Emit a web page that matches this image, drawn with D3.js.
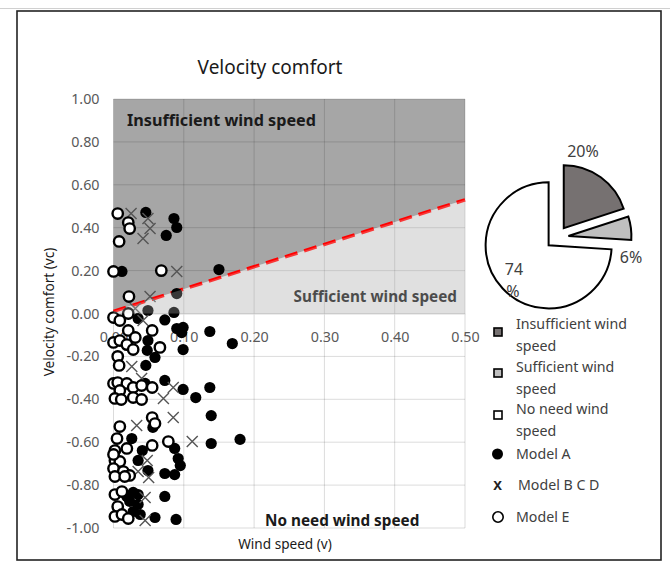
<!DOCTYPE html>
<html>
<head>
<meta charset="utf-8">
<script src="https://cdn.jsdelivr.net/npm/d3@7"></script>
<style>
  html, body { margin: 0; padding: 0; background: #fff; }
  text { font-family: "Noto Sans", "Open Sans", sans-serif; }
</style>
</head>
<body>
<svg id="chart" width="670" height="565"></svg>
<script>
// ---------------- DATA ----------------
const chartTitle = "Velocity comfort";
const xTicks = [0, 0.1, 0.2, 0.3, 0.4, 0.5];
const yTicks = [-1, -0.8, -0.6, -0.4, -0.2, 0, 0.2, 0.4, 0.6, 0.8, 1];

// boundary line (dashed red): wind speed vs velocity comfort
const boundaryV = [0, 0.5];
const boundaryVc = [0.01, 0.53];

// pie
const pieCategories = ["Insufficient wind speed", "Sufficient wind speed", "No need wind speed"];
const pieValues = [20, 6, 74];

// Model A (filled circles) [v, vc]
const modelA = [
  [0.046, 0.471], [0.086, 0.443], [0.090, 0.401], [0.075, 0.364], [0.012, 0.196],
  [0.150, 0.205], [0.090, 0.093], [0.049, 0.014], [0.086, 0.005], [0.035, -0.023],
  [0.073, -0.030], [0.090, -0.070], [0.099, -0.065], [0.097, -0.089], [0.137, -0.084],
  [0.169, -0.140], [0.099, -0.168], [0.049, -0.126], [0.048, -0.172], [0.059, -0.205],
  [0.046, -0.242], [0.045, -0.326], [0.073, -0.312], [0.099, -0.354], [0.137, -0.345],
  [0.117, -0.392], [0.139, -0.476], [0.056, -0.531], [0.180, -0.587], [0.139, -0.606],
  [0.026, -0.583], [0.087, -0.629], [0.041, -0.639], [0.092, -0.676], [0.035, -0.685],
  [0.095, -0.709], [0.049, -0.732], [0.073, -0.746], [0.087, -0.751], [0.028, -0.834],
  [0.035, -0.844], [0.023, -0.876], [0.035, -0.890], [0.028, -0.923], [0.038, -0.937],
  [0.073, -0.853], [0.059, -0.951], [0.089, -0.960], [0.019, -0.853]
];

// Model B C D (crosses) [v, vc]
const modelBCD = [
  [0.025, 0.466], [0.049, 0.443], [0.052, 0.396], [0.042, 0.350], [0.090, 0.196],
  [0.052, 0.079], [0.031, 0.023], [0.042, -0.033], [0.026, -0.247], [0.040, -0.303],
  [0.085, -0.345], [0.071, -0.396], [0.026, -0.373], [0.085, -0.485], [0.033, -0.522],
  [0.112, -0.597], [0.048, -0.685], [0.035, -0.737], [0.050, -0.765], [0.045, -0.858],
  [0.045, -0.965]
];

// Model E (open circles) [v, vc]
const modelE = [
  [0.006, 0.466], [0.021, 0.424], [0.023, 0.396], [0.008, 0.336], [0.000, 0.196],
  [0.068, 0.200], [0.022, 0.079], [0.000, -0.019], [0.009, -0.033], [0.021, 0.000],
  [0.021, -0.079], [0.031, -0.112], [0.055, -0.079], [0.066, -0.158], [0.000, -0.135],
  [0.009, -0.126], [0.019, -0.145], [0.028, -0.168], [0.006, -0.200], [0.008, -0.242],
  [0.000, -0.326], [0.006, -0.322], [0.019, -0.326], [0.028, -0.345], [0.040, -0.336],
  [0.055, -0.345], [0.009, -0.359], [0.002, -0.396], [0.011, -0.401], [0.028, -0.392],
  [0.040, -0.401], [0.055, -0.485], [0.009, -0.527], [0.059, -0.513], [0.078, -0.597],
  [0.055, -0.615], [0.005, -0.583], [0.002, -0.639], [0.019, -0.629], [0.002, -0.685],
  [0.009, -0.690], [0.000, -0.723], [0.014, -0.737], [0.023, -0.755], [0.002, -0.760],
  [0.016, -0.760], [0.002, -0.844], [0.012, -0.830], [0.006, -0.900], [0.002, -0.946],
  [0.012, -0.937], [0.021, -0.956], [0.000, -0.657]
];

// ---------------- CHART ----------------
const svg = d3.select("#chart");

// frame
svg.append("line").attr("x1", 0).attr("x2", 670).attr("y1", 8.5).attr("y2", 8.5)
  .attr("stroke", "#d0d0d0").attr("stroke-width", 1);
svg.append("rect").attr("x", 17).attr("y", 11).attr("width", 644).attr("height", 549)
  .attr("fill", "#fff").attr("stroke", "#222").attr("stroke-width", 1.6);

const x = d3.scaleLinear().domain([0, 0.5]).range([113.5, 465]);
const y = d3.scaleLinear().domain([-1, 1]).range([528, 99]);

// regions
const plot = svg.append("g");
plot.append("rect")
  .attr("x", x(0)).attr("y", y(1)).attr("width", x(0.5) - x(0)).attr("height", y(0) - y(1))
  .attr("fill", "#a6a6a6");
const lightPoly = [
  [x(boundaryV[0]), y(boundaryVc[0])],
  [x(boundaryV[1]), y(boundaryVc[1])],
  [x(boundaryV[1]), y(0)],
  [x(boundaryV[0]), y(0)]
];
plot.append("path").attr("d", d3.line()(lightPoly) + "Z").attr("fill", "#e0e0e0");

// gridlines
const grid = svg.append("g").attr("stroke", "#000").attr("stroke-opacity", 0.14).attr("stroke-width", 1);
xTicks.forEach(t => {
  grid.append("line").attr("x1", x(t)).attr("x2", x(t)).attr("y1", y(1)).attr("y2", y(-1));
});
yTicks.forEach(t => {
  grid.append("line").attr("x1", x(0)).attr("x2", x(0.5)).attr("y1", y(t)).attr("y2", y(t));
});

// region labels
svg.append("text").attr("x", 127).attr("y", 126).attr("font-size", 16.2).attr("font-weight", "bold")
  .attr("fill", "#1a1a1a").text("Insufficient wind speed");
svg.append("text").attr("x", 457).attr("y", 302).attr("text-anchor", "end").attr("font-size", 15.3)
  .attr("font-weight", "bold").attr("fill", "#1a1a1a").text("Sufficient wind speed");
svg.append("text").attr("x", 265).attr("y", 526).attr("font-size", 15.3).attr("font-weight", "bold")
  .attr("fill", "#1a1a1a").text("No need wind speed");

// axes
const fmt = d => (Math.abs(d) < 1e-9 ? 0 : d).toFixed(2);
const yAxis = svg.append("g").attr("transform", `translate(${x(0)},0)`)
  .call(d3.axisLeft(y).tickValues(yTicks).tickSize(0).tickPadding(14).tickFormat(fmt));
yAxis.select(".domain").remove();
yAxis.selectAll("text").attr("font-size", 14.3).attr("fill", "#595959")
  .style("font-family", "'Noto Sans', sans-serif");

const xAxis = svg.append("g").attr("transform", `translate(0,${y(0)})`)
  .call(d3.axisBottom(x).tickValues(xTicks).tickSize(0).tickPadding(18).tickFormat(fmt));
xAxis.select(".domain").attr("stroke", "#d9d9d9");
xAxis.selectAll("text").attr("font-size", 14.3).attr("fill", "#595959")
  .style("font-family", "'Noto Sans', sans-serif");

// dashed boundary line
svg.append("path")
  .attr("d", d3.line().x(d => x(d[0])).y(d => y(d[1]))(boundaryV.map((v, i) => [v, boundaryVc[i]])))
  .attr("stroke", "#ff0000").attr("stroke-width", 3.5).attr("stroke-dasharray", "13,7").attr("fill", "none");

// points
const pts = svg.append("g");
pts.selectAll("circle.a").data(modelA).join("circle").attr("class", "a")
  .attr("cx", d => x(d[0])).attr("cy", d => y(d[1])).attr("r", 5.6).attr("fill", "#000");
const xs = 5.5;
pts.selectAll("path.b").data(modelBCD).join("path").attr("class", "b")
  .attr("d", d => {
    const cx = x(d[0]), cy = y(d[1]);
    return `M${cx - xs},${cy - xs}L${cx + xs},${cy + xs}M${cx - xs},${cy + xs}L${cx + xs},${cy - xs}`;
  })
  .attr("stroke", "#555").attr("stroke-width", 1.4).attr("fill", "none");
pts.selectAll("circle.e").data(modelE).join("circle").attr("class", "e")
  .attr("cx", d => x(d[0])).attr("cy", d => y(d[1])).attr("r", 5.2)
  .attr("fill", "#fff").attr("stroke", "#000").attr("stroke-width", 2.4);

// translucent overlay of the light region (makes marks look greyer there)
svg.append("path").attr("d", d3.line()(lightPoly) + "Z").attr("fill", "#e0e0e0").attr("fill-opacity", 0.25);

// title & axis titles
svg.append("text").attr("x", 270).attr("y", 74).attr("text-anchor", "middle").attr("font-size", 19)
  .attr("fill", "#1a1a1a").text(chartTitle);
svg.append("text").attr("transform", "translate(54,312) rotate(-90)").attr("text-anchor", "middle")
  .attr("font-size", 13.6).attr("fill", "#1a1a1a").text("Velocity comfort (vc)");
svg.append("text").attr("x", 285).attr("y", 549).attr("text-anchor", "middle")
  .attr("font-size", 13.6).attr("fill", "#1a1a1a").text("Wind speed (v)");

// ---------------- PIE ----------------
const pieColors = ["#767171", "#bfbfbf", "#ffffff"];
const pc = [557, 237.5];
const pieR = 63;
const explode = 11.5;
const arcs = d3.pie().sort(null).value(d => d)(pieValues);
const arcGen = d3.arc().innerRadius(0).outerRadius(pieR);
const pieG = svg.append("g");
arcs.forEach((a, i) => {
  const mid = (a.startAngle + a.endAngle) / 2;
  const dx = Math.sin(mid) * explode, dy = -Math.cos(mid) * explode;
  pieG.append("path").attr("transform", `translate(${pc[0] + dx},${pc[1] + dy})`)
    .attr("d", arcGen(a)).attr("fill", pieColors[i]).attr("stroke", "#000").attr("stroke-width", 2)
    .attr("stroke-linejoin", "miter");
});
const pieLabelStyle = s => s.attr("font-size", 16).attr("fill", "#404040").attr("text-anchor", "middle");
pieLabelStyle(svg.append("text").attr("x", 583).attr("y", 157).text(pieValues[0] + "%"));
pieLabelStyle(svg.append("text").attr("x", 631).attr("y", 263).text(pieValues[1] + "%"));
pieLabelStyle(svg.append("text").attr("x", 514).attr("y", 275).text(String(pieValues[2])));
pieLabelStyle(svg.append("text").attr("x", 513).attr("y", 297).text("%"));

// ---------------- LEGEND ----------------
const leg = svg.append("g");
const legTextX = 516;
const legFont = 14.2;
const squares = [
  { y: 332, lines: ["Insufficient wind", "speed"], ty: 329 },
  { y: 373, lines: ["Sufficient wind", "speed"], ty: 372 },
  { y: 415, lines: ["No need wind", "speed"], ty: 414 }
];
squares.forEach((s, i) => {
  leg.append("rect").attr("x", 494).attr("y", s.y - 4).attr("width", 8).attr("height", 8)
    .attr("fill", pieColors[i]).attr("stroke", "#000").attr("stroke-width", 1.6);
  s.lines.forEach((ln, j) => {
    leg.append("text").attr("x", legTextX).attr("y", s.ty + j * 21.5).attr("font-size", legFont)
      .attr("fill", "#404040").text(ln);
  });
});
leg.append("circle").attr("cx", 497.5).attr("cy", 454).attr("r", 5.5).attr("fill", "#000");
leg.append("text").attr("x", legTextX).attr("y", 459).attr("font-size", legFont).attr("fill", "#404040").text("Model A");
leg.append("text").attr("x", 497.5).attr("y", 490).attr("text-anchor", "middle").attr("font-size", 13)
  .attr("font-weight", "bold").attr("fill", "#222").text("X");
leg.append("text").attr("x", 518).attr("y", 490).attr("font-size", legFont).attr("fill", "#404040").text("Model B C D");
leg.append("circle").attr("cx", 498).attr("cy", 517).attr("r", 5.2).attr("fill", "#fff")
  .attr("stroke", "#000").attr("stroke-width", 1.6);
leg.append("text").attr("x", legTextX).attr("y", 522).attr("font-size", legFont).attr("fill", "#404040").text("Model E");
</script>
</body>
</html>
